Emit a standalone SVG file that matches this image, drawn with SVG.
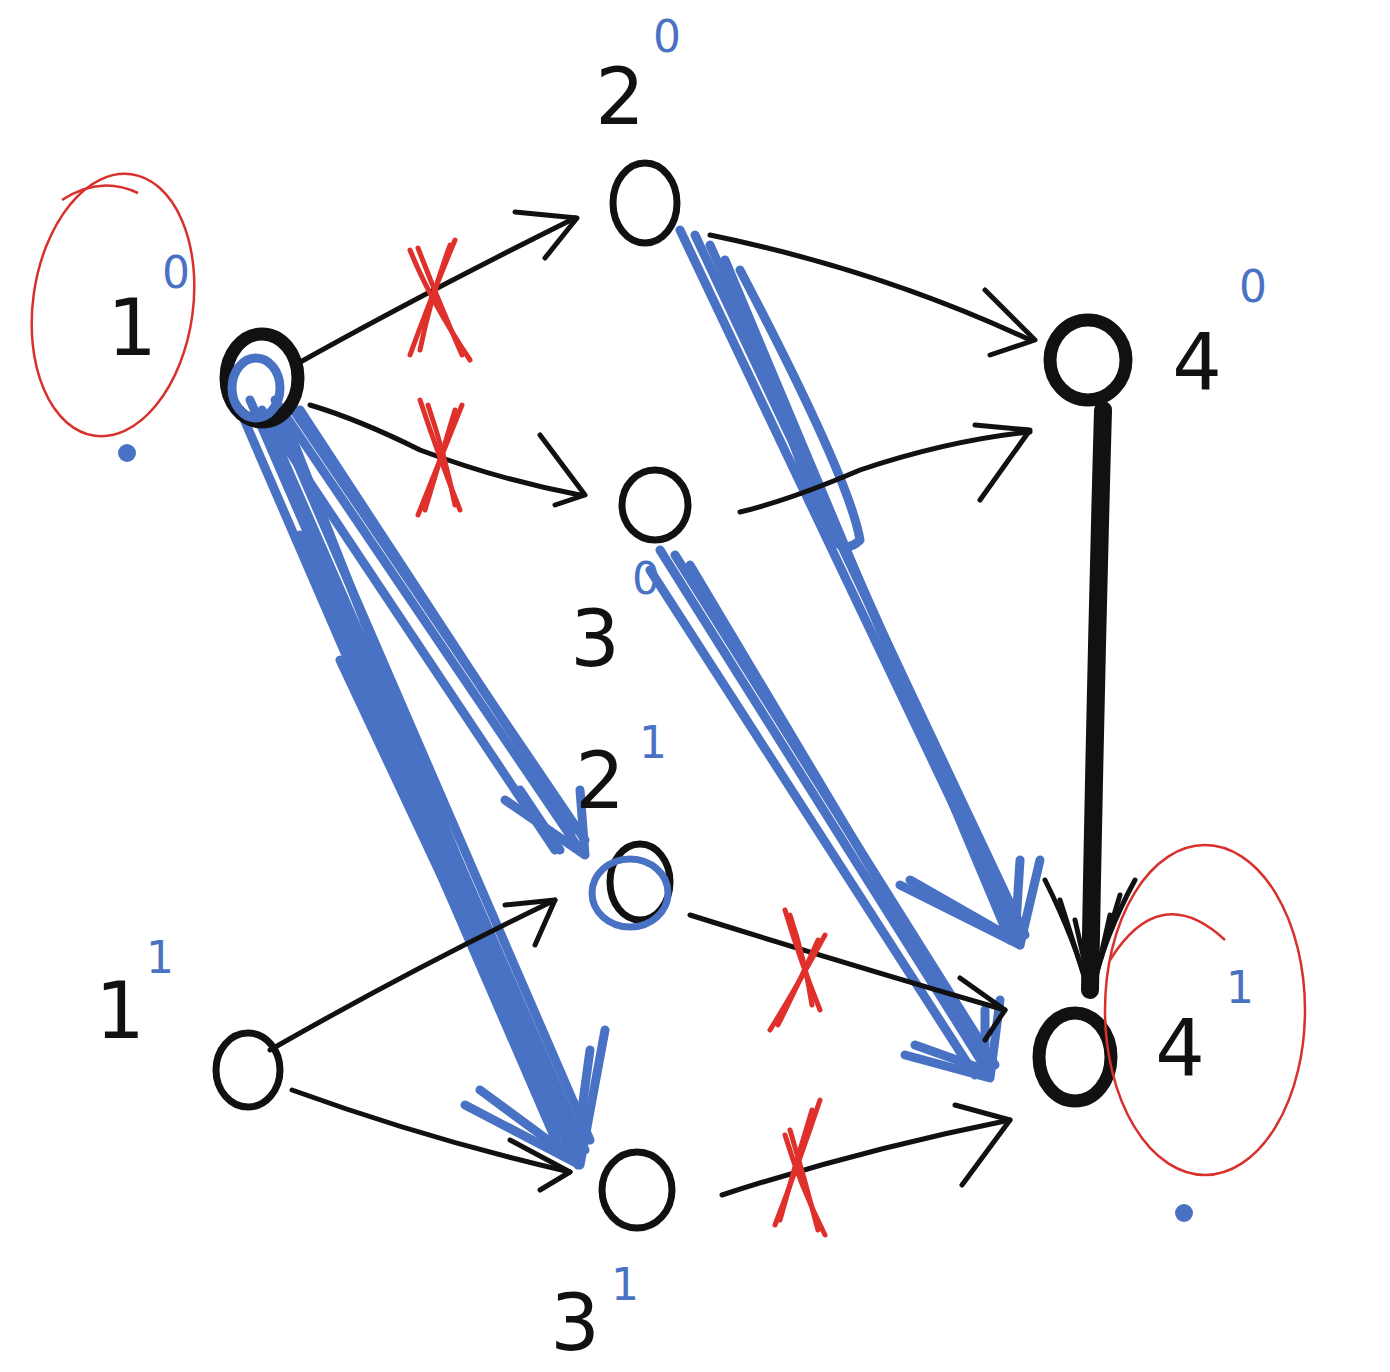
<svg xmlns="http://www.w3.org/2000/svg" width="1390" height="1372" viewBox="0 0 1390 1372">
<style>
.lbl{font-family:"DejaVu Sans","Liberation Sans",sans-serif;font-size:78px;fill:#111;text-anchor:middle}
.sup{font-family:"DejaVu Sans","Liberation Sans",sans-serif;font-size:44px;fill:#4a72c4;text-anchor:middle}
.node{fill:none;stroke:#111;stroke-width:7}
.bold{stroke-width:13}
.bk{fill:none;stroke:#111;stroke-width:5;stroke-linecap:round;stroke-linejoin:round}
.bl{fill:none;stroke:#4a72c4;stroke-width:9;stroke-linecap:round;stroke-linejoin:round}
.rx{fill:none;stroke:#e0302c;stroke-width:5;stroke-linecap:round}
.ring{fill:none;stroke:#d8302c;stroke-width:2.5}
.dot{fill:#4a72c4}
</style>
<rect width="1390" height="1372" fill="#fff"/>

<g id="connectors">
  <g id="b-1-3b">
    <path class="bl" d="M250 400 L580 1160"/>
    <path class="bl" d="M262 410 L585 1150"/>
    <path class="bl" d="M275 412 L590 1140"/>
    <path class="bl" d="M285 420 L578 1165"/>
    <path class="bl" d="M240 410 L560 1150"/>
    <path class="bl" d="M300 535 L560 1130"/>
    <path class="bl" d="M340 660 L570 1150"/>
    <path class="bl" d="M465 1105 L580 1165 L605 1030"/>
    <path class="bl" d="M480 1090 L575 1160 L590 1050"/>
  </g>
  <g id="b-1-2b">
    <path class="bl" d="M275 400 L580 850"/>
    <path class="bl" d="M290 405 L585 840"/>
    <path class="bl" d="M300 410 L575 830"/>
    <path class="bl" d="M265 415 L555 850"/>
    <path class="bl" d="M505 800 L585 855 L580 790"/>
    <path class="bl" d="M520 790 L560 850"/>
  </g>
  <g id="b-2-4b">
    <path class="bl" d="M680 230 L1020 945"/>
    <path class="bl" d="M695 235 L1025 935"/>
    <path class="bl" d="M710 245 L1015 930"/>
    <path class="bl" d="M725 260 L1010 940"/>
    <path class="bl" d="M740 270 Q850 480 860 540 Q840 560 820 520 Q790 430 740 300"/>
    <path class="bl" d="M900 885 L1020 945 L1040 860"/>
    <path class="bl" d="M910 880 L1015 940 L1020 860"/>
  </g>
  <g id="b-3-4b">
    <path class="bl" d="M660 550 L990 1075"/>
    <path class="bl" d="M675 555 L995 1065"/>
    <path class="bl" d="M690 565 L985 1060"/>
    <path class="bl" d="M650 570 L975 1075"/>
    <path class="bl" d="M905 1055 L990 1078 L1000 1000"/>
    <path class="bl" d="M915 1045 L985 1070 L985 1010"/>
  </g>

  <g id="e-1-2">
    <path class="bk" d="M295 365 Q420 295 575 218"/>
    <path class="bk" d="M515 212 L577 218 L545 258"/>
  </g>
  <g id="e-1-3">
    <path class="bk" d="M310 405 Q360 420 420 450 Q500 480 580 495"/>
    <path class="bk" d="M540 435 L585 495 L555 505"/>
  </g>
  <g id="e-2-4">
    <path class="bk" d="M710 235 Q880 270 1030 340"/>
    <path class="bk" d="M985 290 L1035 340 L990 355"/>
  </g>
  <g id="e-3-4">
    <path class="bk" d="M740 512 Q790 500 860 470 Q950 440 1030 432"/>
    <path class="bk" d="M975 425 L1030 430 L980 500"/>
  </g>
  <g id="e-4-4b">
    <path fill="none" stroke="#111" stroke-width="18" stroke-linecap="round" d="M1103 410 Q1095 700 1090 990"/>
    <path class="bk" d="M1045 880 Q1075 940 1090 995 Q1105 935 1135 880"/>
    <path class="bk" d="M1060 900 L1090 995 L1120 895"/>
    <path class="bk" d="M1075 920 L1092 995 L1110 915"/>
  </g>
  <g id="e-1b-2b">
    <path class="bk" d="M270 1050 Q410 970 555 900"/>
    <path class="bk" d="M505 905 L555 900 L535 945"/>
  </g>
  <g id="e-1b-3b">
    <path class="bk" d="M292 1090 Q430 1140 570 1172"/>
    <path class="bk" d="M510 1140 L570 1172 L540 1190"/>
  </g>
  <g id="e-2b-4b">
    <path class="bk" d="M690 915 Q850 965 1005 1010"/>
    <path class="bk" d="M960 978 L1005 1010 L985 1040"/>
  </g>
  <g id="e-3b-4b">
    <path class="bk" d="M722 1195 Q860 1150 1010 1120"/>
    <path class="bk" d="M955 1105 L1010 1120 L962 1185"/>
  </g>

  <g id="x1">
    <path class="rx" d="M410 250 Q430 300 470 360"/>
    <path class="rx" d="M418 248 Q438 300 462 355"/>
    <path class="rx" d="M455 240 Q430 300 410 355"/>
    <path class="rx" d="M450 245 Q430 300 420 350"/>
  </g>
  <g id="x2">
    <path class="rx" d="M420 400 Q440 460 460 510"/>
    <path class="rx" d="M428 405 Q445 455 455 505"/>
    <path class="rx" d="M462 405 Q440 460 418 515"/>
    <path class="rx" d="M455 410 Q440 460 425 510"/>
  </g>
  <g id="x3">
    <path class="rx" d="M785 910 Q800 960 820 1010"/>
    <path class="rx" d="M790 915 Q805 960 812 1005"/>
    <path class="rx" d="M825 935 Q795 990 770 1030"/>
    <path class="rx" d="M818 940 Q798 985 778 1025"/>
  </g>
  <g id="x4">
    <path class="rx" d="M785 1135 Q800 1185 825 1235"/>
    <path class="rx" d="M790 1130 Q805 1180 818 1230"/>
    <path class="rx" d="M820 1100 Q800 1160 775 1225"/>
    <path class="rx" d="M812 1110 Q795 1165 780 1220"/>
  </g>
</g>

<g id="n-1-0">
  <ellipse class="node bold" cx="262" cy="378" rx="36" ry="44"/>
  <ellipse fill="none" stroke="#4a72c4" stroke-width="9" cx="256" cy="388" rx="24" ry="30"/>
  <text class="lbl" x="132" y="355">1</text>
  <text class="sup" x="176" y="288">0</text>
  <ellipse class="ring" cx="113" cy="305" rx="80" ry="132" transform="rotate(8 113 305)"/>
  <path class="ring" d="M62 200 Q100 175 138 193"/>
  <circle class="dot" cx="127" cy="453" r="9"/>
</g>
<g id="n-2-0">
  <ellipse class="node" cx="645" cy="203" rx="32" ry="40"/>
  <text class="lbl" x="620" y="124">2</text>
  <text class="sup" x="667" y="52">0</text>
</g>
<g id="n-3-0">
  <ellipse class="node" cx="655" cy="505" rx="33" ry="35"/>
  <text class="lbl" x="595" y="666">3</text>
  <text class="sup" x="646" y="594">0</text>
</g>
<g id="n-4-0">
  <ellipse class="node bold" cx="1088" cy="360" rx="38" ry="40"/>
  <text class="lbl" x="1197" y="390">4</text>
  <text class="sup" x="1253" y="302">0</text>
</g>
<g id="n-1-1">
  <ellipse class="node" cx="248" cy="1070" rx="32" ry="37"/>
  <text class="lbl" x="120" y="1038">1</text>
  <text class="sup" x="160" y="973">1</text>
</g>
<g id="n-2-1">
  <ellipse class="node" cx="640" cy="882" rx="30" ry="38"/>
  <ellipse fill="none" stroke="#4a72c4" stroke-width="7" cx="630" cy="893" rx="38" ry="34"/>
  <text class="lbl" x="600" y="808">2</text>
  <text class="sup" x="653" y="758">1</text>
</g>
<g id="n-3-1">
  <ellipse class="node" cx="637" cy="1190" rx="35" ry="38"/>
  <text class="lbl" x="575" y="1350">3</text>
  <text class="sup" x="625" y="1300">1</text>
</g>
<g id="n-4-1">
  <ellipse class="node bold" cx="1075" cy="1057" rx="36" ry="44"/>
  <text class="lbl" x="1180" y="1076">4</text>
  <text class="sup" x="1240" y="1003">1</text>
  <ellipse class="ring" cx="1205" cy="1010" rx="100" ry="165"/>
  <path class="ring" d="M1110 960 Q1160 880 1225 940"/>
  <circle class="dot" cx="1184" cy="1213" r="9"/>
</g>
</svg>
